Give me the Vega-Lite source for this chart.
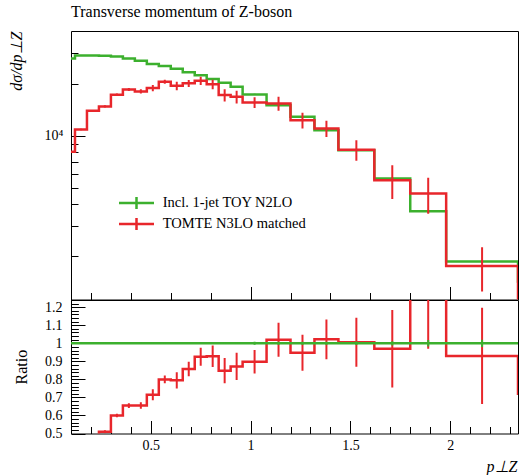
{
  "$schema": "https://vega.github.io/schema/vega-lite/v6.json",
  "background": "white",
  "padding": {"left": 7, "top": 3, "right": 0, "bottom": 0},
  "spacing": 0,
  "bounds": "flush",
  "config": {
    "view": {"stroke": "black", "strokeWidth": 1},
    "font": "Liberation Serif",
    "axis": {"labelFont": "Liberation Serif", "titleFont": "Liberation Serif", "labelColor": "black", "titleColor": "black", "tickColor": "black", "tickWidth": 1, "domain": false, "grid": false, "titleFontWeight": "normal", "labelFontSize": 14, "labelOverlap": false, "labelFlush": false}
  },
  "datasets": {
    "h": [
      {"s": "Incl. 1-jet TOY N2LO", "lo": 0.06, "mid": 0.09, "v": 28040, "e": 110, "r": 1, "re": 0.004},
      {"s": "Incl. 1-jet TOY N2LO", "lo": 0.12, "mid": 0.15, "v": 29190, "e": 120, "r": 1, "re": 0.004},
      {"s": "Incl. 1-jet TOY N2LO", "lo": 0.18, "mid": 0.21, "v": 29190, "e": 120, "r": 1, "re": 0.004},
      {"s": "Incl. 1-jet TOY N2LO", "lo": 0.24, "mid": 0.27, "v": 29100, "e": 120, "r": 1, "re": 0.004},
      {"s": "Incl. 1-jet TOY N2LO", "lo": 0.30, "mid": 0.33, "v": 28800, "e": 115, "r": 1, "re": 0.004},
      {"s": "Incl. 1-jet TOY N2LO", "lo": 0.36, "mid": 0.39, "v": 28040, "e": 110, "r": 1, "re": 0.004},
      {"s": "Incl. 1-jet TOY N2LO", "lo": 0.42, "mid": 0.45, "v": 27220, "e": 110, "r": 1, "re": 0.004},
      {"s": "Incl. 1-jet TOY N2LO", "lo": 0.48, "mid": 0.51, "v": 26040, "e": 105, "r": 1, "re": 0.004},
      {"s": "Incl. 1-jet TOY N2LO", "lo": 0.54, "mid": 0.57, "v": 25360, "e": 100, "r": 1, "re": 0.004},
      {"s": "Incl. 1-jet TOY N2LO", "lo": 0.60, "mid": 0.63, "v": 24460, "e": 100, "r": 1, "re": 0.004},
      {"s": "Incl. 1-jet TOY N2LO", "lo": 0.66, "mid": 0.69, "v": 23300, "e": 95, "r": 1, "re": 0.004},
      {"s": "Incl. 1-jet TOY N2LO", "lo": 0.72, "mid": 0.75, "v": 22390, "e": 90, "r": 1, "re": 0.004},
      {"s": "Incl. 1-jet TOY N2LO", "lo": 0.78, "mid": 0.81, "v": 21310, "e": 85, "r": 1, "re": 0.004},
      {"s": "Incl. 1-jet TOY N2LO", "lo": 0.84, "mid": 0.87, "v": 20280, "e": 80, "r": 1, "re": 0.004},
      {"s": "Incl. 1-jet TOY N2LO", "lo": 0.90, "mid": 0.93, "v": 19220, "e": 80, "r": 1, "re": 0.004},
      {"s": "Incl. 1-jet TOY N2LO", "lo": 0.96, "mid": 1.02, "v": 17360, "e": 140, "r": 1, "re": 0.008},
      {"s": "Incl. 1-jet TOY N2LO", "lo": 1.08, "mid": 1.14, "v": 15040, "e": 120, "r": 1, "re": 0.008},
      {"s": "Incl. 1-jet TOY N2LO", "lo": 1.20, "mid": 1.26, "v": 12860, "e": 100, "r": 1, "re": 0.008},
      {"s": "Incl. 1-jet TOY N2LO", "lo": 1.32, "mid": 1.38, "v": 10760, "e": 90, "r": 1, "re": 0.008},
      {"s": "Incl. 1-jet TOY N2LO", "lo": 1.44, "mid": 1.53, "v": 8235, "e": 80, "r": 1, "re": 0.01},
      {"s": "Incl. 1-jet TOY N2LO", "lo": 1.62, "mid": 1.71, "v": 5640, "e": 70, "r": 1, "re": 0.012},
      {"s": "Incl. 1-jet TOY N2LO", "lo": 1.80, "mid": 1.89, "v": 3640, "e": 65, "r": 1, "re": 0.018},
      {"s": "Incl. 1-jet TOY N2LO", "lo": 1.98, "mid": 2.16, "v": 1864, "e": 37, "r": 1, "re": 0.02},
      {"s": "Incl. 1-jet TOY N2LO", "lo": 2.34, "mid": 2.52, "v": 1400, "e": 30, "r": 1, "re": 0.02},
      {"s": "TOMTE N3LO matched", "lo": 0.06, "mid": 0.09, "v": 8070, "e": 80, "r": 0.288, "re": 0.003},
      {"s": "TOMTE N3LO matched", "lo": 0.12, "mid": 0.15, "v": 10860, "e": 110, "r": 0.372, "re": 0.004},
      {"s": "TOMTE N3LO matched", "lo": 0.18, "mid": 0.21, "v": 13940, "e": 140, "r": 0.478, "re": 0.005},
      {"s": "TOMTE N3LO matched", "lo": 0.24, "mid": 0.27, "v": 14780, "e": 220, "r": 0.51, "re": 0.008},
      {"s": "TOMTE N3LO matched", "lo": 0.30, "mid": 0.33, "v": 17270, "e": 290, "r": 0.60, "re": 0.01},
      {"s": "TOMTE N3LO matched", "lo": 0.36, "mid": 0.39, "v": 18560, "e": 370, "r": 0.655, "re": 0.013},
      {"s": "TOMTE N3LO matched", "lo": 0.42, "mid": 0.45, "v": 18070, "e": 500, "r": 0.655, "re": 0.018},
      {"s": "TOMTE N3LO matched", "lo": 0.48, "mid": 0.51, "v": 18890, "e": 790, "r": 0.715, "re": 0.03},
      {"s": "TOMTE N3LO matched", "lo": 0.54, "mid": 0.57, "v": 20550, "e": 565, "r": 0.80, "re": 0.022},
      {"s": "TOMTE N3LO matched", "lo": 0.60, "mid": 0.63, "v": 19470, "e": 1100, "r": 0.795, "re": 0.045},
      {"s": "TOMTE N3LO matched", "lo": 0.66, "mid": 0.69, "v": 20120, "e": 940, "r": 0.858, "re": 0.04},
      {"s": "TOMTE N3LO matched", "lo": 0.72, "mid": 0.75, "v": 20830, "e": 1125, "r": 0.925, "re": 0.05},
      {"s": "TOMTE N3LO matched", "lo": 0.78, "mid": 0.81, "v": 19850, "e": 1280, "r": 0.928, "re": 0.06},
      {"s": "TOMTE N3LO matched", "lo": 0.84, "mid": 0.87, "v": 17200, "e": 1420, "r": 0.848, "re": 0.07},
      {"s": "TOMTE N3LO matched", "lo": 0.90, "mid": 0.93, "v": 16810, "e": 1445, "r": 0.872, "re": 0.075},
      {"s": "TOMTE N3LO matched", "lo": 0.96, "mid": 1.02, "v": 15600, "e": 1130, "r": 0.898, "re": 0.065},
      {"s": "TOMTE N3LO matched", "lo": 1.08, "mid": 1.14, "v": 15390, "e": 1420, "r": 1.02, "re": 0.094},
      {"s": "TOMTE N3LO matched", "lo": 1.20, "mid": 1.26, "v": 12300, "e": 1300, "r": 0.948, "re": 0.10},
      {"s": "TOMTE N3LO matched", "lo": 1.32, "mid": 1.38, "v": 11010, "e": 1185, "r": 1.022, "re": 0.11},
      {"s": "TOMTE N3LO matched", "lo": 1.44, "mid": 1.53, "v": 8280, "e": 1120, "r": 1.006, "re": 0.136},
      {"s": "TOMTE N3LO matched", "lo": 1.62, "mid": 1.71, "v": 5510, "e": 1220, "r": 0.97, "re": 0.215},
      {"s": "TOMTE N3LO matched", "lo": 1.80, "mid": 1.89, "v": 4613, "e": 1090, "r": 1.27, "re": 0.30},
      {"s": "TOMTE N3LO matched", "lo": 1.98, "mid": 2.16, "v": 1750, "e": 502, "r": 0.93, "re": 0.267},
      {"s": "TOMTE N3LO matched", "lo": 2.34, "mid": 2.52, "v": 1000, "e": 300, "r": 0.714, "re": 0.2}
    ]
  },
  "vconcat": [
    {
      "width": 447,
      "height": 268.5,
      "title": {"text": "Transverse momentum of Z-boson", "anchor": "start", "frame": "group", "font": "Liberation Serif", "fontSize": 16, "fontWeight": "normal", "color": "black", "offset": 11},
      "layer": [
        {
          "data": {"name": "h"},
          "transform": [{"filter": "datum.s === 'Incl. 1-jet TOY N2LO'"}],
          "mark": {"type": "line", "interpolate": "step-after", "strokeWidth": 2.5, "clip": true},
          "encoding": {
            "x": {"field": "lo", "type": "quantitative", "title": null, "scale": {"domain": [0.1, 2.34], "nice": false, "zero": false},
              "axis": {"labels": false, "values": [0.2,0.3,0.4,0.5,0.6,0.7,0.8,0.9,1,1.1,1.2,1.3,1.4,1.5,1.6,1.7,1.8,1.9,2,2.1,2.2,2.3],
                "tickSize": {"condition": {"test": "abs(datum.value*2 - round(datum.value*2)) < 0.001", "value": -13}, "value": -7}}},
            "y": {"field": "v", "type": "quantitative", "title": "dσ/dp⊥Z", "scale": {"type": "log", "domain": [1120, 40500], "nice": false},
              "axis": {"titleFontStyle": "italic", "titleFontSize": 16, "titleAngle": 270, "titleAlign": "right", "titleBaseline": "alphabetic", "titleX": -50, "titleY": 0,
                "values": [2000,3000,4000,5000,6000,7000,8000,9000,10000,20000,30000],
                "labelExpr": "datum.value === 10000 ? '10⁴' : ''", "labelPadding": 22,
                "tickSize": {"condition": {"test": "datum.value === 10000", "value": -14}, "value": -7}}},
            "color": {"field": "s", "type": "nominal", "scale": {"domain": ["Incl. 1-jet TOY N2LO", "TOMTE N3LO matched"], "range": ["#3cb02e", "#e8262b"]},
              "legend": {"orient": "none", "legendX": 57, "legendY": 163.5, "title": null, "symbolType": "M-2.5,0H2.5M0,-0.85V0.85", "symbolSize": 196, "symbolStrokeWidth": 2.5, "labelFont": "Liberation Serif", "labelFontSize": 14.5, "labelColor": "black", "labelOffset": 17.7, "rowPadding": -2, "padding": 0}}
          }
        },
        {
          "data": {"name": "h"},
          "transform": [{"filter": "datum.s === 'Incl. 1-jet TOY N2LO'"}],
          "mark": {"type": "errorbar", "thickness": 2, "clip": true},
          "encoding": {
            "x": {"field": "mid", "type": "quantitative", "title": null},
            "y": {"field": "v", "type": "quantitative", "title": "dσ/dp⊥Z"},
            "yError": {"field": "e"},
            "color": {"field": "s", "type": "nominal"}
          }
        },
        {
          "data": {"name": "h"},
          "transform": [{"filter": "datum.s === 'TOMTE N3LO matched'"}],
          "mark": {"type": "line", "interpolate": "step-after", "strokeWidth": 2.5, "clip": true},
          "encoding": {
            "x": {"field": "lo", "type": "quantitative", "title": null},
            "y": {"field": "v", "type": "quantitative", "title": "dσ/dp⊥Z"},
            "color": {"field": "s", "type": "nominal"}
          }
        },
        {
          "data": {"name": "h"},
          "transform": [{"filter": "datum.s === 'TOMTE N3LO matched'"}],
          "mark": {"type": "errorbar", "thickness": 2, "clip": true},
          "encoding": {
            "x": {"field": "mid", "type": "quantitative", "title": null},
            "y": {"field": "v", "type": "quantitative", "title": "dσ/dp⊥Z"},
            "yError": {"field": "e"},
            "color": {"field": "s", "type": "nominal"}
          }
        }
      ]
    },
    {
      "width": 447,
      "height": 133.5,
      "resolve": {"axis": {"x": "independent", "y": "independent"}},
      "layer": [
        {
          "data": {"name": "h"},
          "transform": [{"filter": "datum.s === 'TOMTE N3LO matched'"}],
          "mark": {"type": "line", "interpolate": "step-after", "strokeWidth": 2.5, "clip": true, "color": "#e8262b"},
          "encoding": {
            "x": {"field": "lo", "type": "quantitative", "title": "p⊥Z", "scale": {"domain": [0.1, 2.34], "nice": false, "zero": false},
              "axis": {"orient": "bottom", "titleFontStyle": "italic", "titleFontSize": 16, "titleAnchor": "end", "titleAlign": "right", "titleBaseline": "alphabetic", "titleX": 446, "titleY": 37.5,
                "values": [0.5, 1, 1.5, 2], "format": "~g",
                "labelBaseline": "alphabetic", "labelPadding": 29, "labelFontSize": 14, "tickSize": -13}},
            "y": {"field": "r", "type": "quantitative", "title": "Ratio", "scale": {"domain": [0.5, 1.24], "nice": false, "zero": false},
              "axis": {"orient": "left", "titleFontSize": 16, "titleAngle": 270, "titleAlign": "center", "titleBaseline": "alphabetic", "titleX": -45, "titleY": 66.7,
                "values": [0.5, 0.6, 0.7, 0.8, 0.9, 1, 1.1, 1.2], "format": "~g", "labelPadding": 23, "labelFontSize": 14, "tickSize": -14}}
          }
        },
        {
          "data": {"name": "h"},
          "transform": [{"filter": "datum.s === 'TOMTE N3LO matched'"}],
          "mark": {"type": "errorbar", "thickness": 2, "clip": true, "color": "#e8262b"},
          "encoding": {
            "x": {"field": "mid", "type": "quantitative", "title": null,
              "axis": {"orient": "bottom", "labels": false, "tickSize": -7, "values": [0.2,0.3,0.4,0.6,0.7,0.8,0.9,1.1,1.2,1.3,1.4,1.6,1.7,1.8,1.9,2.1,2.2,2.3]}},
            "y": {"field": "r", "type": "quantitative", "title": null,
              "axis": {"orient": "left", "labels": false, "tickSize": -7, "values": [0.52,0.54,0.56,0.58,0.62,0.64,0.66,0.68,0.72,0.74,0.76,0.78,0.82,0.84,0.86,0.88,0.92,0.94,0.96,0.98,1.02,1.04,1.06,1.08,1.12,1.14,1.16,1.18,1.22,1.24]}},
            "yError": {"field": "re"}
          }
        },
        {
          "data": {"name": "h"},
          "transform": [{"filter": "datum.s === 'Incl. 1-jet TOY N2LO'"}],
          "mark": {"type": "line", "interpolate": "step-after", "strokeWidth": 2.5, "clip": true, "color": "#3cb02e"},
          "encoding": {
            "x": {"field": "lo", "type": "quantitative", "title": null,
              "axis": {"orient": "bottom", "labels": false, "tickSize": -7, "values": [0.2,0.3,0.4,0.6,0.7,0.8,0.9,1.1,1.2,1.3,1.4,1.6,1.7,1.8,1.9,2.1,2.2,2.3]}},
            "y": {"field": "r", "type": "quantitative", "title": null,
              "axis": {"orient": "left", "labels": false, "tickSize": -7, "values": [0.52,0.54,0.56,0.58,0.62,0.64,0.66,0.68,0.72,0.74,0.76,0.78,0.82,0.84,0.86,0.88,0.92,0.94,0.96,0.98,1.02,1.04,1.06,1.08,1.12,1.14,1.16,1.18,1.22,1.24]}}
          }
        },
        {
          "data": {"name": "h"},
          "transform": [{"filter": "datum.s === 'Incl. 1-jet TOY N2LO'"}],
          "mark": {"type": "errorbar", "thickness": 2, "clip": true, "color": "#3cb02e"},
          "encoding": {
            "x": {"field": "mid", "type": "quantitative", "title": null,
              "axis": {"orient": "bottom", "labels": false, "tickSize": -7, "values": [0.2,0.3,0.4,0.6,0.7,0.8,0.9,1.1,1.2,1.3,1.4,1.6,1.7,1.8,1.9,2.1,2.2,2.3]}},
            "y": {"field": "r", "type": "quantitative", "title": null,
              "axis": {"orient": "left", "labels": false, "tickSize": -7, "values": [0.52,0.54,0.56,0.58,0.62,0.64,0.66,0.68,0.72,0.74,0.76,0.78,0.82,0.84,0.86,0.88,0.92,0.94,0.96,0.98,1.02,1.04,1.06,1.08,1.12,1.14,1.16,1.18,1.22,1.24]}},
            "yError": {"field": "re"}
          }
        }
      ]
    }
  ]
}
